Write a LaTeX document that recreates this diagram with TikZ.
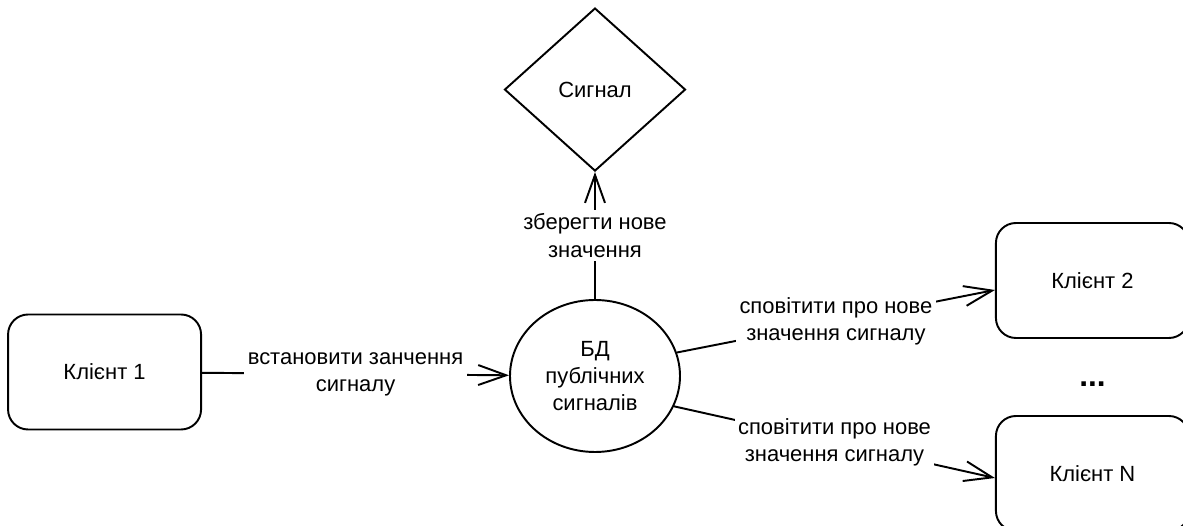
\documentclass[tikz,border=0pt]{standalone}
\usepackage{fontspec}
\setmainfont{Liberation Sans}
\usepackage{tikz}
\usetikzlibrary{positioning,shapes.geometric,arrows.meta}

\begin{document}
\begin{tikzpicture}[font=\fontsize{12.5}{15.4}\selectfont]
		\tikzstyle{client}=[rectangle, rounded corners=0.4cm, minimum width=3.86cm, minimum height=2.3cm, line width=1.1pt, draw=black]
		\tikzstyle{store}=[ellipse, minimum width=3.4cm, minimum height=3.04cm, align=center, line width=1.1pt, draw=black]
		\tikzstyle{value}=[diamond, minimum width=3.62cm, minimum height=3.26cm, inner sep=0pt, line width=1.1pt, draw=black]
		\tikzstyle{connect}=[-{Straight Barb[length=0.56cm, width=0.4cm]}, line width=1.1pt]
		\tikzstyle{lbl}=[fill=white, align=center, inner sep=2pt]
		\useasboundingbox (0,0) rectangle (23.66,-10.52);
		
		\node[store] (db) at (11.9,-7.52) {БД\\публічних\\сигналів};
		\node[value] (signal) [above=2.54cm of db] {Сигнал};
		
		\node[client] (c1) [left=6.14cm of db, yshift=0.08cm] {Клієнт 1};
		
		\node[client] (c2) [right=6.28cm of db, yshift=1.91cm] {Клієнт 2};
		\node[client] (cN) [right=6.28cm of db, yshift=-1.95cm] {Клієнт N};
		\node[font=\fontsize{18}{20}\selectfont\bfseries] (dots) [below=0.74cm of c2] {...};
		
		\path (c1) edge [connect] node[lbl] {встановити занчення\\сигналу} (db);
		\path (db) edge [connect] node[lbl] {зберегти нове\\значення} (signal);
		
		\path (db.16) edge [connect] node[lbl] {сповітити про нове\\значення сигналу} ([yshift=-0.19cm]c2.west);
		\path (db.-21) edge [connect] node[lbl] {сповітити про нове\\значення сигналу} ([yshift=-0.09cm]cN.west);

	\end{tikzpicture}
\end{document}
